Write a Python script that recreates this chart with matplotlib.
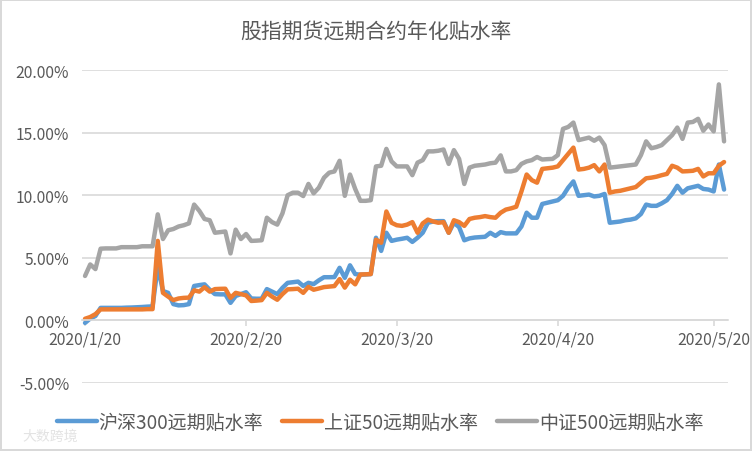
import pandas as pd
import matplotlib
matplotlib.use("Agg")
import matplotlib.pyplot as plt
import matplotlib.dates as mdates
from matplotlib.ticker import FuncFormatter

plt.rcParams['font.family'] = ['Noto Sans CJK SC', 'DejaVu Sans']

# daily values, 2020/1/20 .. 2020/5/22 (%)
dates = pd.date_range('2020-01-20', '2020-05-22')

hs300 = [
    -0.2, 0.15, 0.35, 1.0, 1.0, 1.0, 1.0, 1.0, 1.02, 1.03,
    1.05, 1.07, 1.1, 1.12, 4.3, 2.35, 2.2, 1.3, 1.2, 1.22,
    1.3, 2.75, 2.82, 2.88, 2.45, 2.1, 2.08, 2.08, 1.4, 1.95,
    2.1, 2.25, 1.75, 1.73, 1.73, 2.5, 2.3, 2.1, 2.6, 3.0,
    3.05, 3.1, 2.75, 3.0, 2.9, 3.2, 3.45, 3.45, 3.46, 4.2,
    3.4, 4.4, 3.7, 3.65, 3.67, 3.7, 6.6, 5.55, 7.0, 6.35,
    6.45, 6.52, 6.6, 6.27, 6.6, 7.0, 7.8, 7.9, 7.93, 7.93,
    7.0, 7.8, 7.45, 6.4, 6.55, 6.62, 6.65, 6.68, 7.0, 6.75,
    7.05, 6.95, 6.95, 6.95, 7.5, 8.6, 8.2, 8.2, 9.3, 9.4,
    9.5, 9.6, 9.95, 10.6, 11.1, 9.95, 10.0, 10.05, 9.9, 9.95,
    10.1, 7.8, 7.85, 7.9, 8.0, 8.05, 8.15, 8.5, 9.25, 9.15,
    9.15, 9.35, 9.6, 10.1, 10.75, 10.2, 10.55, 10.65, 10.75, 10.5,
    10.45, 10.3, 12.45, 10.45,
]

sz50 = [
    0.13, 0.27, 0.5, 0.88, 0.88, 0.88, 0.88, 0.88, 0.88, 0.88,
    0.88, 0.88, 0.9, 0.9, 6.35, 2.2, 1.9, 1.62, 1.75, 1.8,
    1.82, 2.4, 2.3, 2.65, 2.3, 2.5, 2.52, 2.53, 1.8, 2.2,
    2.1, 2.0, 1.55, 1.58, 1.62, 2.2, 1.9, 1.65, 2.1, 2.48,
    2.5, 2.53, 2.2, 2.68, 2.45, 2.55, 2.66, 2.7, 2.74, 3.3,
    2.62, 3.25, 2.88, 3.67, 3.68, 3.7, 6.45, 6.2, 8.7, 7.8,
    7.6, 7.55, 7.65, 7.85, 7.0, 7.75, 8.05, 7.9, 7.8, 7.85,
    7.0, 8.0, 7.85, 7.55, 8.1, 8.2, 8.25, 8.33, 8.25, 8.2,
    8.6, 8.85, 8.95, 9.08, 10.3, 11.65, 11.2, 11.0, 12.1, 12.15,
    12.2, 12.3, 12.8, 13.3, 13.8, 12.05, 12.1, 12.2, 12.4, 11.9,
    12.45, 10.2, 10.3, 10.35, 10.45, 10.55, 10.65, 11.0, 11.35, 11.4,
    11.48, 11.6, 11.7, 12.35, 12.2, 11.9, 11.92, 11.95, 12.1, 11.5,
    11.75, 11.75, 12.35, 12.65,
]

zz500 = [
    3.55, 4.47, 4.1, 5.73, 5.75, 5.75, 5.75, 5.85, 5.85, 5.85,
    5.85, 5.92, 5.92, 5.92, 8.47, 6.5, 7.2, 7.3, 7.5, 7.6,
    7.75, 9.25, 8.75, 8.1, 8.0, 7.0, 7.05, 7.1, 5.35, 7.25,
    6.5, 6.9, 6.35, 6.37, 6.4, 8.2, 7.85, 7.65, 8.55, 10.0,
    10.2, 10.2, 9.93, 10.9, 10.15, 10.6, 11.4, 11.8, 11.9, 12.75,
    9.95, 11.65, 10.5, 9.55, 9.55, 9.6, 12.3, 12.35, 13.7, 12.7,
    12.3, 12.3, 12.3, 11.6, 12.6, 12.8, 13.5, 13.5, 13.55, 13.65,
    12.5, 13.6, 12.9, 10.9, 12.2, 12.35, 12.4, 12.45, 12.55, 12.6,
    13.18, 11.9, 11.9, 12.0, 12.5, 12.7, 12.8, 13.05, 12.85, 12.88,
    12.9, 13.2, 15.3, 15.45, 15.8, 14.4, 14.5, 14.6, 14.35, 14.6,
    14.0, 12.2, 12.25, 12.3, 12.35, 12.4, 12.45, 13.2, 14.3, 13.75,
    13.85, 14.0, 14.4, 14.8, 15.4, 14.5, 15.8, 15.85, 16.1, 15.15,
    15.65, 15.1, 18.85, 14.3,
]

names = ['沪深300远期贴水率', '上证50远期贴水率', '中证500远期贴水率']
colors = ['#5B9BD5', '#ED7D31', '#A5A5A5']
tick_dates = pd.to_datetime(['2020-01-20', '2020-02-20', '2020-03-20', '2020-04-20', '2020-05-20'])

txt = '#595959'
grid = '#D9D9D9'

fig = plt.figure(figsize=(7.52, 4.52), dpi=100, linewidth=1.5, edgecolor=grid)
ax = fig.add_axes([81.7 / 752, 1 - 384 / 452, (727.7 - 81.7) / 752, (384 - 71) / 452])

for vals, name, c in zip([hs300, sz50, zz500], names, colors):
    ax.plot(dates, vals, color=c, lw=3.2, label=name, solid_joinstyle='round', solid_capstyle='round')

ax.set_ylim(-5, 20)
ax.set_yticks([-5, 0, 5, 10, 15, 20])
ax.yaxis.set_major_formatter(FuncFormatter(lambda v, p: f'{v:.2f}%'))
ax.set_xlim(dates[0] - pd.Timedelta(days=0.64), dates[-1] + pd.Timedelta(days=0.7))
ax.set_xticks(tick_dates)
ax.xaxis.set_major_formatter(FuncFormatter(
    lambda v, p: f'{mdates.num2date(v).year}/{mdates.num2date(v).month}/{mdates.num2date(v).day}'))

ax.grid(axis='y', color=grid, lw=1.2)
ax.set_axisbelow(True)
for s in ['top', 'right', 'left']:
    ax.spines[s].set_visible(False)
ax.spines['bottom'].set_position(('data', 0))
ax.spines['bottom'].set_color(grid)
ax.spines['bottom'].set_linewidth(1.2)
ax.tick_params(axis='x', colors=grid, length=4, width=1.2, pad=3, labelsize=11.3, labelcolor=txt)
ax.tick_params(axis='y', length=0, pad=9, labelsize=11.3, labelcolor=txt)

fig.text(0.5, 1 - 32 / 452, '股指期货远期合约年化贴水率', ha='center', va='center',
         fontsize=15, color=txt)

fig.legend(loc='center', bbox_to_anchor=(380 / 752, 1 - 423 / 452), ncol=3, frameon=False,
           fontsize=13.7, handlelength=2.1, handletextpad=0.1, columnspacing=1.0,
           labelcolor=txt, borderpad=0)

fig.text(22 / 752, 1 - 437 / 452, '大数跨境', ha='left', va='center', fontsize=10,
         color='#E3E3E3')

fig.savefig('out.png', dpi=100)
